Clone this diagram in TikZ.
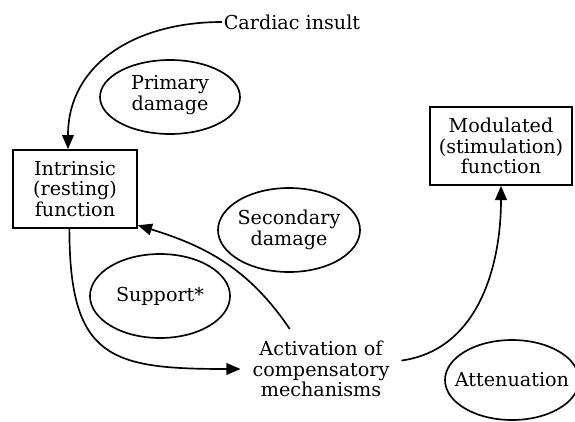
\documentclass[tikz,border=0pt]{standalone}
\usepackage{fontspec}
\setmainfont{DejaVu Serif}
\usetikzlibrary{arrows.meta}

\tikzset{
  label/.style={font=\fontsize{11.5}{12.4}\selectfont, align=center, inner sep=1pt},
  box/.style={label, draw, line width=1pt, inner sep=2pt},
  blob/.style={line width=1pt},
  flow/.style={line width=1pt, -{Triangle[length=8.5pt,width=7pt]}}
}

\begin{document}
\begin{tikzpicture}[x=0.6pt,y=-0.6pt]
      \useasboundingbox (0,0) rectangle (575,421);
      % boxes and labels
      \node[box, minimum width=74.4pt, minimum height=46.8pt] (intrinsic) at (75,189)
        {Intrinsic\\(resting)\\function};
      \node[box, minimum width=85.2pt, minimum height=46.8pt] (modulated) at (501,146)
        {Modulated\\(stimulation)\\function};
      \node[label] (insult) at (292,22) {Cardiac insult};
      \node[label, inner sep=7pt] (activation) at (321,369)
        {Activation of\\compensatory\\mechanisms};
      % ovals
      \draw[blob] (170,97) ellipse [x radius=70, y radius=37];
      \node[label] (primary) at (170,95) {Primary\\damage};
      \draw[blob] (289,230) ellipse [x radius=71, y radius=42];
      \node[label] (secondary) at (289,230) {Secondary\\damage};
      \draw[blob] (160,296) ellipse [x radius=70, y radius=42];
      \node[label] (support) at (160,296) {Support*};
      \draw[blob] (512,380) ellipse [x radius=67, y radius=40];
      \node[label] (attenuation) at (512,380) {Attenuation};
      % arrows
      \draw[flow] (insult.west) to[out=180,in=90,looseness=1.1] (intrinsic.100);
      \draw[flow] (intrinsic.262) to[out=-90,in=180,looseness=1.5] (activation.west);
      \draw[flow] (activation.128) to[out=124,in=-17] (intrinsic.-30);
      \draw[flow] (activation.6) to[out=8,in=-90] (modulated.south);
    \end{tikzpicture}
\end{document}
